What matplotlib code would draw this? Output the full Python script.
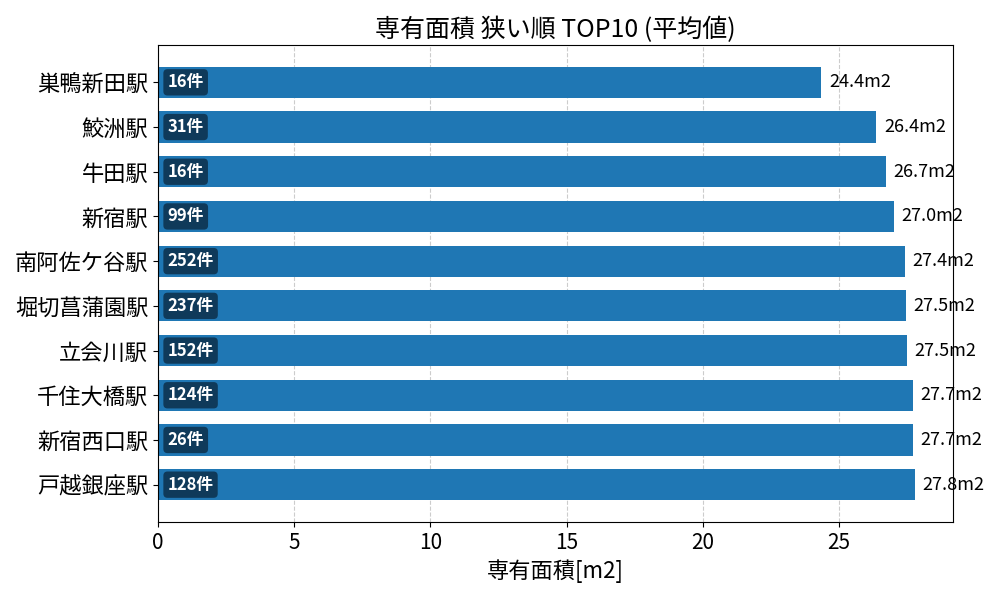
import matplotlib
matplotlib.use("Agg")
import matplotlib.pyplot as plt
import numpy as np

plt.rcParams['font.family'] = ['Noto Sans CJK JP', 'DejaVu Sans']

stations = ['巣鴨新田駅', '鮫洲駅', '牛田駅', '新宿駅', '南阿佐ケ谷駅',
            '堀切菖蒲園駅', '立会川駅', '千住大橋駅', '新宿西口駅', '戸越銀座駅']
areas = [24.36, 26.38, 26.72, 27.02, 27.42, 27.46, 27.50, 27.72, 27.73, 27.80]
counts = [16, 31, 16, 99, 252, 237, 152, 124, 26, 128]

fig, ax = plt.subplots(figsize=(10, 6), dpi=100)
y = np.arange(len(stations))
ax.barh(y, areas, height=0.7, color='#1f77b4')
ax.set_yticks(y)
ax.set_yticklabels(stations, fontsize=16)
ax.invert_yaxis()
ax.set_xlim(0, max(areas) * 1.05)
ax.tick_params(axis='x', labelsize=15)
ax.xaxis.grid(True, linestyle='--', color='#cccccc')
ax.set_axisbelow(True)

for i, (a, c) in enumerate(zip(areas, counts)):
    ax.text(a + max(areas) * 0.01, i, f'{a:.1f}m2', va='center', fontsize=13)
    ax.text(0.35, i, f'{c}件', va='center', ha='left', fontsize=12,
            color='white', fontweight='bold',
            bbox=dict(boxstyle='round,pad=0.25', facecolor='#0f3a5a', edgecolor='none'))

ax.set_xlabel('専有面積[m2]', fontsize=16)
ax.set_title('専有面積 狭い順 TOP10 (平均値)', fontsize=18)
plt.subplots_adjust(left=0.158, right=0.953, top=0.925, bottom=0.13)
plt.savefig('out.png')
